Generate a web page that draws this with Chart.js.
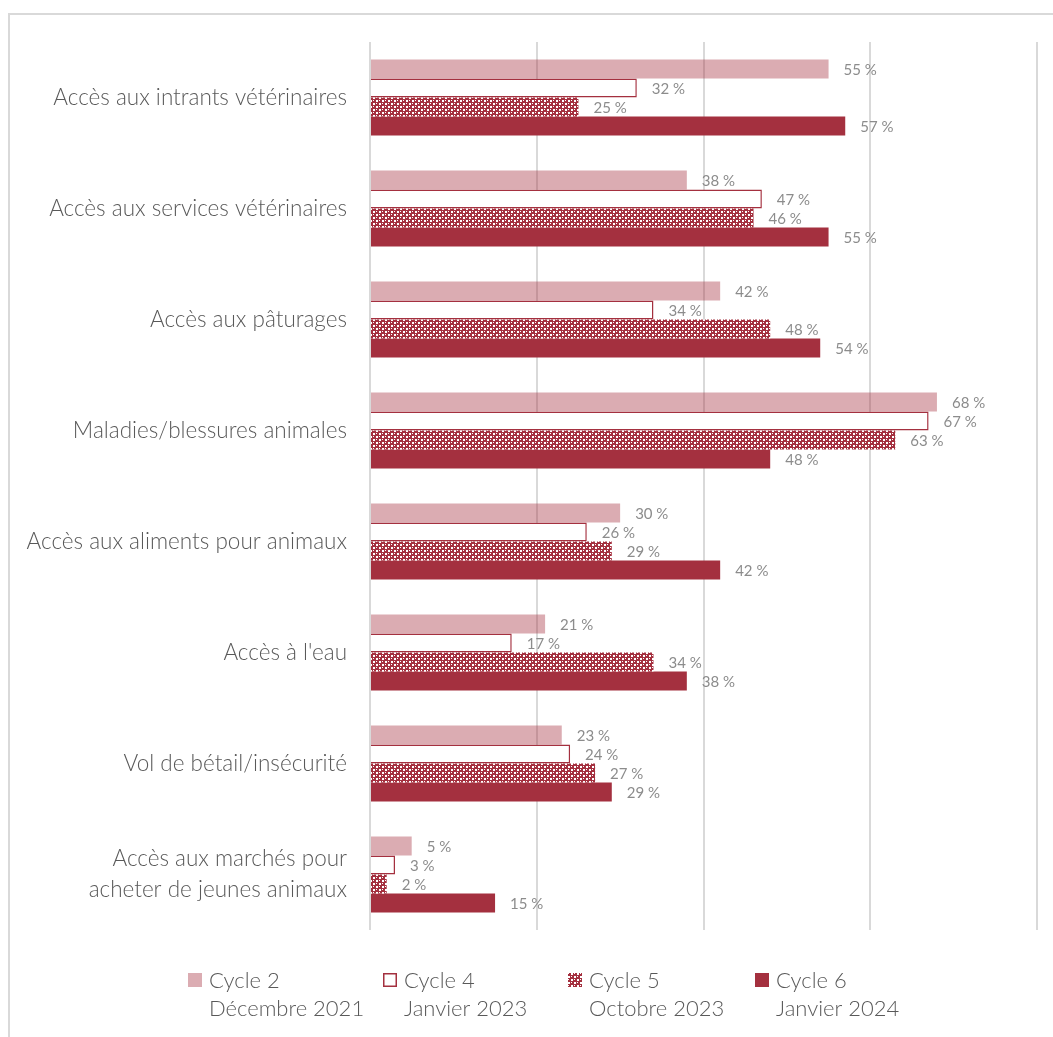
<!DOCTYPE html>
<html>
<head>
<meta charset="utf-8">
<script src="https://cdn.jsdelivr.net/npm/chart.js@4.4.0/dist/chart.umd.min.js"></script>
<style>
  html, body { margin: 0; padding: 0; background: #fff; }
  #wrap { width: 1053px; height: 1037px; position: relative; }
</style>
</head>
<body>
<div id="wrap"><canvas id="chart" width="1053" height="1037"></canvas></div>
<script>
const categories = [
    'Accès aux intrants vétérinaires',
    'Accès aux services vétérinaires',
    'Accès aux pâturages',
    'Maladies/blessures animales',
    'Accès aux aliments pour animaux',
    "Accès à l'eau",
    'Vol de bétail/insécurité',
    ['Accès aux marchés pour', 'acheter de jeunes animaux']
];
const seriesNames = [
    ['Cycle 2', 'Décembre 2021'],
    ['Cycle 4', 'Janvier 2023'],
    ['Cycle 5', 'Octobre 2023'],
    ['Cycle 6', 'Janvier 2024']
];
const cycle2 = [55, 38, 42, 68, 30, 21, 23, 5];
const cycle4 = [32, 47, 34, 67, 26, 17, 24, 3];
const cycle5 = [25, 46, 48, 63, 29, 34, 27, 2];
const cycle6 = [57, 55, 54, 48, 42, 38, 29, 15];
const xTicks = [0, 20, 40, 60, 80];

const red = '#a4303f';
const fontFamily = 'Lato, "Open Sans", sans-serif';

// dotted pattern for cycle 5
function makePattern() {
    const c = document.createElement('canvas');
    c.width = 6; c.height = 6;
    const g = c.getContext('2d');
    g.fillStyle = red;
    g.fillRect(0, 0, 6, 6);
    g.fillStyle = '#ffffff';
    g.fillRect(1, 1, 2, 2);
    g.fillRect(4, 4, 2, 2);
    g.fillRect(4, 1, 1, 1);
    g.fillRect(1, 4, 1, 1);
    return g.createPattern(c, 'repeat');
}
const pattern = makePattern();

const frame = {
    id: 'frame',
    beforeDraw(chart) {
        const ctx = chart.ctx;
        ctx.save();
        ctx.strokeStyle = '#d9d9d9';
        ctx.lineWidth = 2;
        ctx.beginPath();
        ctx.moveTo(9, 1037);
        ctx.lineTo(9, 14);
        ctx.lineTo(1053, 14);
        ctx.stroke();
        ctx.restore();
    }
};

const valueLabels = {
    id: 'valueLabels',
    afterDatasetsDraw(chart) {
        const ctx = chart.ctx;
        ctx.save();
        ctx.font = '15px ' + fontFamily;
        ctx.fillStyle = '#8c8c8c';
        ctx.textBaseline = 'middle';
        chart.data.datasets.forEach((ds, i) => {
            chart.getDatasetMeta(i).data.forEach((bar, j) => {
                ctx.fillText(ds.data[j] + ' %', bar.x + 15, bar.y + 1);
            });
        });
        ctx.restore();
    }
};

const legendBox = {
    id: 'legendBox',
    afterDraw(chart) {
        const ctx = chart.ctx;
        const starts = [188, 383, 568, 755];
        ctx.save();
        ctx.font = '300 22px ' + fontFamily;
        ctx.textBaseline = 'middle';
        chart.data.datasets.forEach((ds, i) => {
            const x = starts[i];
            ctx.fillStyle = ds.backgroundColor;
            ctx.fillRect(x, 973, 14, 14);
            if (ds.borderWidth) {
                ctx.strokeStyle = ds.borderColor;
                ctx.lineWidth = 1.5;
                ctx.strokeRect(x + 0.75, 973.75, 12.5, 12.5);
            }
            ctx.fillStyle = '#595959';
            ctx.fillText(ds.label[0], x + 21, 981);
            ctx.fillText(ds.label[1], x + 21, 1009);
        });
        ctx.restore();
    }
};

new Chart(document.getElementById('chart').getContext('2d'), {
    type: 'bar',
    data: {
        labels: categories,
        datasets: [
            { label: seriesNames[0], data: cycle2, backgroundColor: 'rgba(164, 48, 63, 0.4)', borderWidth: 0 },
            { label: seriesNames[1], data: cycle4, backgroundColor: '#ffffff', borderColor: red, borderWidth: 1.5 },
            { label: seriesNames[2], data: cycle5, backgroundColor: pattern, borderWidth: 0 },
            { label: seriesNames[3], data: cycle6, backgroundColor: red, borderWidth: 0 }
        ]
    },
    options: {
        indexAxis: 'y',
        responsive: false,
        animation: false,
        layout: { padding: { top: 42, bottom: 107, right: 16, left: 0 } },
        categoryPercentage: 0.685,
        barPercentage: 1,
        plugins: {
            legend: { display: false },
            tooltip: { enabled: false }
        },
        scales: {
            x: {
                min: xTicks[0],
                max: xTicks[xTicks.length - 1],
                afterBuildTicks: (scale) => { scale.ticks = xTicks.map(v => ({ value: v })); },
                ticks: { display: false },
                grid: { color: '#d9d9d9', lineWidth: 2, drawTicks: false },
                border: { display: false }
            },
            y: {
                afterFit: (scale) => {
                    scale.width = 370;
                    scale.paddingTop = 0;
                    scale.paddingBottom = 0;
                },
                ticks: {
                    color: '#595959',
                    padding: 23,
                    font: { family: fontFamily, size: 22.5, weight: 300, lineHeight: 1.36 }
                },
                grid: { display: false, drawTicks: false },
                border: { display: false }
            }
        }
    },
    plugins: [frame, valueLabels, legendBox]
});
</script>
</body>
</html>
